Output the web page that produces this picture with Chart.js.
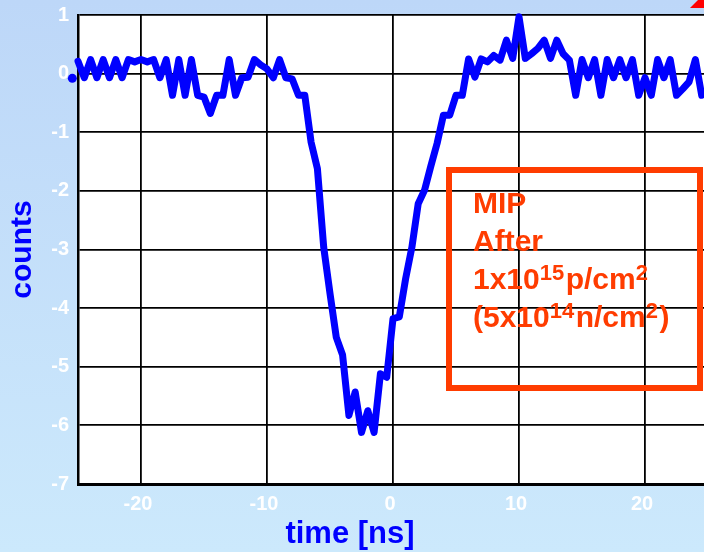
<!DOCTYPE html>
<html>
<head>
<meta charset="utf-8">
<script src="https://cdn.jsdelivr.net/npm/chart.js@4"></script>
<style>
  html, body { margin: 0; padding: 0; }
  body {
    width: 704px; height: 552px; overflow: hidden;
    background: linear-gradient(#bdd7f8, #cce9fc);
  }
  #wrap { width: 720px; height: 552px; }
  canvas { display: block; }
</style>
</head>
<body>
<div id="wrap"><canvas id="chart" width="720" height="552"></canvas></div>
<script>
// sample times [ns], one every 0.5 ns
const times = [
  -25, -24.5, -24, -23.5, -23, -22.5, -22, -21.5, -21, -20.5,
  -20, -19.5, -19, -18.5, -18, -17.5, -17, -16.5, -16, -15.5,
  -15, -14.5, -14, -13.5, -13, -12.5, -12, -11.5, -11, -10.5,
  -10, -9.5, -9, -8.5, -8, -7.5, -7, -6.5, -6, -5.5,
  -5, -4.5, -4, -3.5, -3, -2.5, -2, -1.5, -1, -0.5,
  0, 0.5, 1, 1.5, 2, 2.5, 3, 3.5, 4, 4.5,
  5, 5.5, 6, 6.5, 7, 7.5, 8, 8.5, 9, 9.5,
  10, 10.5, 11, 11.5, 12, 12.5, 13, 13.5, 14, 14.5,
  15, 15.5, 16, 16.5, 17, 17.5, 18, 18.5, 19, 19.5,
  20, 20.5, 21, 21.5, 22, 22.5, 23, 23.5, 24, 24.5, 25
];

// signal
const counts = [
  0.21, -0.07, 0.24, -0.07, 0.24, -0.07, 0.24, -0.07, 0.24, 0.20,
  0.24, 0.20, 0.24, -0.07, 0.24, -0.37, 0.24, -0.37, 0.24, -0.37,
  -0.40, -0.68, -0.37, -0.37, 0.24, -0.37, -0.07, -0.06, 0.24, 0.15,
  0.08, -0.07, 0.24, -0.07, -0.09, -0.37, -0.37, -1.17, -1.62, -2.96,
  -3.75, -4.50, -4.80, -5.83, -5.43, -6.12, -5.75, -6.12, -5.12, -5.18,
  -4.18, -4.15, -3.50, -2.96, -2.22, -1.99, -1.58, -1.19, -0.71, -0.71,
  -0.37, -0.37, 0.25, -0.06, 0.25, 0.20, 0.31, 0.23, 0.57, 0.26,
  0.97, 0.26, 0.34, 0.43, 0.57, 0.26, 0.57, 0.34, 0.23, -0.37,
  0.24, -0.07, 0.24, -0.37, 0.24, -0.07, 0.24, -0.07, 0.24, -0.37,
  -0.07, -0.37, 0.24, -0.07, 0.24, -0.37, -0.26, -0.14, 0.24, -0.37, -0.30
];

// stray dot left of the axis
const startDot = [{ x: -25.45, y: -0.08 }];

const xTicks = [-20, -10, 0, 10, 20];
const yTicks = [1, 0, -1, -2, -3, -4, -5, -6, -7];

const FONT = '"Liberation Sans", Arial, sans-serif';
const BLUE = '#0000ff';
const RED = '#ff3c00';

// white plot area
const plotBg = {
  id: 'plotBg',
  beforeDraw(chart) {
    const { ctx, chartArea: a } = chart;
    ctx.save();
    ctx.fillStyle = '#ffffff';
    ctx.fillRect(a.left, a.top, a.right - a.left, a.bottom - a.top);
    ctx.restore();
  }
};

// note box, x title and the red corner mark
const overlay = {
  id: 'overlay',
  afterDraw(chart) {
    const ctx = chart.ctx;
    ctx.save();

    ctx.strokeStyle = RED;
    ctx.lineWidth = 6;
    ctx.strokeRect(449, 170, 251, 218);

    const lines = [
      [{ t: 'MIP' }],
      [{ t: 'After' }],
      [{ t: '1x10' }, { t: '15', sup: true }, { t: 'p/cm' }, { t: '2', sup: true }],
      [{ t: '(5x10' }, { t: '14', sup: true }, { t: 'n/cm' }, { t: '2', sup: true }, { t: ')' }]
    ];
    ctx.fillStyle = RED;
    ctx.textBaseline = 'alphabetic';
    ctx.textAlign = 'left';
    lines.forEach((parts, i) => {
      let x = 473;
      const y = 213 + i * 38;
      parts.forEach(p => {
        ctx.font = p.sup ? 'bold 22px ' + FONT : 'bold 30px ' + FONT;
        ctx.fillText(p.t, x, p.sup ? y - 9 : y);
        x += ctx.measureText(p.t).width + (p.sup ? 1.5 : 0);
      });
    });

    ctx.fillStyle = BLUE;
    ctx.font = 'bold 31px ' + FONT;
    ctx.textAlign = 'center';
    ctx.fillText('time [ns]', 350, 543);

    ctx.fillStyle = '#ff0000';
    ctx.beginPath();
    ctx.moveTo(690, 8);
    ctx.lineTo(704, 8);
    ctx.lineTo(704, -1);
    ctx.lineTo(699, -1);
    ctx.closePath();
    ctx.fill();

    ctx.restore();
  }
};

new Chart(document.getElementById('chart'), {
  type: 'line',
  data: {
    datasets: [
      {
        data: times.map((t, i) => ({ x: t, y: counts[i] })),
        borderColor: BLUE,
        borderWidth: 7,
        pointRadius: 0,
        tension: 0,
        borderJoinStyle: 'round',
        borderCapStyle: 'round',
        clip: false
      },
      {
        type: 'scatter',
        data: startDot,
        pointRadius: 4.5,
        pointHoverRadius: 12,
        backgroundColor: BLUE,
        borderWidth: 0,
        clip: false
      }
    ]
  },
  options: {
    responsive: false,
    maintainAspectRatio: false,
    animation: false,
    layout: { padding: { top: 15, right: 4, bottom: 28, left: 0 } },
    plugins: {
      legend: { display: false },
      tooltip: { enabled: false }
    },
    scales: {
      x: {
        type: 'linear',
        min: -25,
        max: 25,
        afterBuildTicks: s => { s.ticks = xTicks.map(v => ({ value: v })); },
        afterFit: s => { s.paddingLeft = 0; s.paddingRight = 0; },
        grid: { color: '#000', lineWidth: 1.8, drawTicks: false },
        border: { color: '#000', width: 3 },
        ticks: {
          color: '#ffffff',
          font: { family: FONT, size: 20, weight: 'bold' },
          padding: 8,
          labelOffset: -3,
          maxRotation: 0,
          autoSkip: false,
          callback: v => String(v)
        }
      },
      y: {
        min: -7,
        max: 1,
        afterBuildTicks: s => { s.ticks = yTicks.map(v => ({ value: v })); },
        afterFit: s => { s.width = 78; s.paddingTop = 0; s.paddingBottom = 0; },
        grid: { color: '#000', lineWidth: 1.8, drawTicks: false },
        border: { color: '#000', width: 2.5 },
        ticks: {
          color: '#ffffff',
          font: { family: FONT, size: 20, weight: 'bold' },
          padding: 9,
          callback: v => String(v)
        },
        title: {
          display: true,
          text: 'counts',
          color: BLUE,
          font: { family: FONT, size: 30, weight: 'bold' },
          padding: { top: 5, bottom: 0 }
        }
      }
    }
  },
  plugins: [plotBg, overlay]
});
</script>
</body>
</html>
